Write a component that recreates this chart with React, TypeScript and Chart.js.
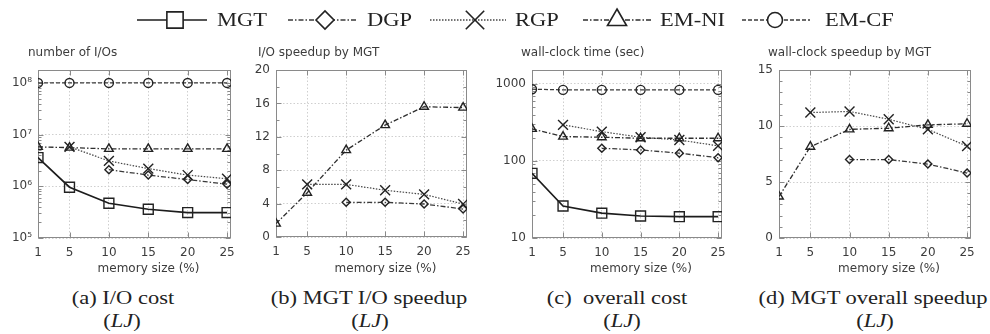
import React, { useEffect, useRef } from 'react';
import { Chart, registerables } from 'chart.js';
import { drawPoint } from 'chart.js/helpers';

Chart.register(...registerables);
Chart.defaults.font.family = '"DejaVu Sans", sans-serif';

// ---------------- data ----------------
const MEMORY_SIZES = [1, 5, 10, 15, 20, 25];
const X_TICKS = [1, 5, 10, 15, 20, 25];
const X_MIN = 1;
const X_MAX = 25.5;
const SERIES = ['MGT', 'DGP', 'RGP', 'EM-NI', 'EM-CF'];

// (a) number of I/Os
const IO_MGT = [3.6e6, 9.6e5, 4.7e5, 3.6e5, 3.1e5, 3.1e5];
const IO_DGP = [null, null, 2.1e6, 1.65e6, 1.35e6, 1.1e6];
const IO_RGP = [null, 5.8e6, 3.1e6, 2.2e6, 1.65e6, 1.4e6];
const IO_EMNI = [5.8e6, 5.6e6, 5.3e6, 5.3e6, 5.3e6, 5.3e6];
const IO_EMCF = [1.0e8, 1.0e8, 1.0e8, 1.0e8, 1.0e8, 1.0e8];
const A_Y_TICKS = [1e5, 1e6, 1e7, 1e8];
const A_Y_LABELS = ['10\u2075', '10\u2076', '10\u2077', '10\u2078'];

// (b) I/O speedup by MGT
const IOSP_DGP = [null, null, 4.15, 4.15, 3.95, 3.35];
const IOSP_RGP = [null, 6.3, 6.3, 5.6, 5.1, 3.95];
const IOSP_EMNI = [1.6, 5.3, 10.4, 13.4, 15.6, 15.5];
const B_Y_TICKS = [0, 4, 8, 12, 16, 20];
const B_Y_LABELS = ['0', '4', '8', '12', '16', '20'];

// (c) wall-clock time (sec)
const T_MGT = [69, 26, 21, 19.3, 18.9, 18.9];
const T_DGP = [null, null, 146, 139, 126, 110];
const T_RGP = [null, 294, 240, 203, 187, 157];
const T_EMNI = [261, 207, 203, 197, 197, 197];
const T_EMCF = [853, 836, 836, 836, 836, 836];
const C_Y_TICKS = [10, 100, 1000];
const C_Y_LABELS = ['10', '100', '1000'];

// (d) wall-clock speedup by MGT
const TSP_DGP = [null, null, 7.0, 7.0, 6.6, 5.8];
const TSP_RGP = [null, 11.2, 11.3, 10.6, 9.7, 8.2];
const TSP_EMNI = [3.7, 8.15, 9.7, 9.8, 10.1, 10.2];
const D_Y_TICKS = [0, 5, 10, 15];
const D_Y_LABELS = ['0', '5', '10', '15'];

const X_TITLE = 'memory size (%)';

// ---------------- styles ----------------
const STYLE: Record<string, any> = {
  MGT: { color: '#1c1c1c', width: 1.7, dash: [], point: 'rect', r: 7, lr: 11.5 },
  DGP: { color: '#3a3a3a', width: 1.3, dash: [5, 2, 1.5, 2], point: 'rectRot', r: 4, lr: 9 },
  RGP: { color: '#474747', width: 1.2, dash: [1.5, 1.5], point: 'crossRot', r: 7, lr: 13 },
  'EM-NI': { color: '#2e2e2e', width: 1.3, dash: [5, 2, 1.5, 2], point: 'triangle', r: 5, lr: 11 },
  'EM-CF': { color: '#3a3a3a', width: 1.3, dash: [4, 2], point: 'circle', r: 4.5, lr: 7.5 },
};

const PANELS = [
  {
    title: 'number of I/Os', left: 0, width: 245, titleX: 28,
    area: { l: 38, r: 231, t: 30, b: 198 },
    yType: 'logarithmic', yMin: 1e5, yMax: 1.78e8, yTicks: A_Y_TICKS, yLabels: A_Y_LABELS,
    series: [['MGT', IO_MGT], ['DGP', IO_DGP], ['RGP', IO_RGP], ['EM-NI', IO_EMNI], ['EM-CF', IO_EMCF]],
  },
  {
    title: 'I/O speedup by MGT', left: 245, width: 245, titleX: 13,
    area: { l: 31, r: 222, t: 30, b: 197 },
    yType: 'linear', yMin: 0, yMax: 20, yTicks: B_Y_TICKS, yLabels: B_Y_LABELS, minorStep: 2,
    series: [['DGP', IOSP_DGP], ['RGP', IOSP_RGP], ['EM-NI', IOSP_EMNI]],
  },
  {
    title: 'wall-clock time (sec)', left: 490, width: 255, titleX: 31,
    area: { l: 42, r: 232, t: 30, b: 198 },
    yType: 'logarithmic', yMin: 10, yMax: 1514, yTicks: C_Y_TICKS, yLabels: C_Y_LABELS,
    series: [['MGT', T_MGT], ['DGP', T_DGP], ['RGP', T_RGP], ['EM-NI', T_EMNI], ['EM-CF', T_EMCF]],
  },
  {
    title: 'wall-clock speedup by MGT', left: 745, width: 245, titleX: 23,
    area: { l: 34, r: 226, t: 30, b: 198 },
    yType: 'linear', yMin: 0, yMax: 15, yTicks: D_Y_TICKS, yLabels: D_Y_LABELS, minorStep: 1,
    series: [['DGP', TSP_DGP], ['RGP', TSP_RGP], ['EM-NI', TSP_EMNI]],
  },
];

const PANEL_TOP = 40;
const PANEL_H = 240;

const LEGEND_LAYOUT = [
  { x0: 137, x1: 207, mx: 175, tx: 217 },
  { x0: 288, x1: 358, mx: 325, tx: 367 },
  { x0: 430, x1: 506, mx: 475, tx: 515 },
  { x0: 583, x1: 652, mx: 617, tx: 660 },
  { x0: 742, x1: 810, mx: 775, tx: 825 },
];

const CAPTIONS = [
  { text: '(a) I/O cost', cx: 123, cx2: 122 },
  { text: '(b) MGT I/O speedup', cx: 369, cx2: 370 },
  { text: '(c)  overall cost', cx: 617, cx2: 622 },
  { text: '(d) MGT overall speedup', cx: 873, cx2: 875 },
];

// ---------------- plugins ----------------
const framePlugin = {
  id: 'frame',
  beforeDatasetsDraw(chart: any, _a: any, opts: any) {
    const { ctx, chartArea: a } = chart;
    const ys = chart.scales.y;
    const xs = chart.scales.x;
    ctx.save();
    ctx.strokeStyle = '#8a8a8a';
    ctx.lineWidth = 1;
    ctx.setLineDash([]);
    const L = Math.round(a.left) + 0.5, R = Math.round(a.right) - 0.5;
    const T = Math.round(a.top) + 0.5, B = Math.round(a.bottom) - 0.5;
    ctx.strokeRect(L, T, R - L, B - T);
    ctx.beginPath();
    const tick = (py: number, len: number) => {
      const y = Math.round(py) + 0.5;
      ctx.moveTo(L, y); ctx.lineTo(L + len, y);
      ctx.moveTo(R, y); ctx.lineTo(R - len, y);
    };
    if (opts.log) {
      for (let e = Math.floor(Math.log10(ys.min)); e <= Math.ceil(Math.log10(ys.max)); e++) {
        for (let k = 2; k <= 9; k++) {
          const v = k * Math.pow(10, e);
          if (v > ys.min && v < ys.max) tick(ys.getPixelForValue(v), 3);
        }
      }
    } else if (opts.minorStep) {
      for (let v = ys.min; v <= ys.max; v += opts.minorStep) tick(ys.getPixelForValue(v), 3);
    }
    ys.ticks.forEach((t: any) => tick(ys.getPixelForValue(t.value), 5));
    xs.ticks.forEach((t: any) => {
      const x = Math.round(xs.getPixelForValue(t.value)) + 0.5;
      ctx.moveTo(x, B); ctx.lineTo(x, B - 5);
      ctx.moveTo(x, T); ctx.lineTo(x, T + 5);
    });
    ctx.stroke();
    ctx.restore();
  },
};

const panelTextPlugin = {
  id: 'panelText',
  afterDraw(chart: any, _a: any, opts: any) {
    const { ctx, chartArea: a } = chart;
    ctx.save();
    ctx.fillStyle = '#3c3c3c';
    ctx.font = '12px "DejaVu Sans"';
    ctx.textBaseline = 'middle';
    ctx.textAlign = 'left';
    ctx.fillText(opts.title, opts.titleX, opts.titleY);
    ctx.textAlign = 'center';
    ctx.fillText(opts.xTitle, (a.left + a.right) / 2 + opts.xTitleShift, opts.xTitleY);
    ctx.restore();
  },
};

const legendPlugin = {
  id: 'lineLegend',
  afterDraw(chart: any) {
    const { ctx } = chart;
    const y = 20;
    chart.data.datasets.forEach((ds: any, i: number) => {
      const L = LEGEND_LAYOUT[i];
      ctx.save();
      ctx.strokeStyle = ds.borderColor;
      ctx.lineWidth = 1.6;
      ctx.setLineDash(ds.borderDash || []);
      ctx.beginPath();
      ctx.moveTo(L.x0, y);
      ctx.lineTo(L.x1, y);
      ctx.stroke();
      ctx.setLineDash([]);
      ctx.fillStyle = '#ffffff';
      ctx.strokeStyle = '#222';
      ctx.lineWidth = 1.6;
      drawPoint(ctx, { pointStyle: ds.pointStyle, radius: ds.legendRadius, rotation: 0, borderWidth: 1.6 } as any, L.mx, y);
      ctx.fillStyle = '#222';
      ctx.font = '18px "Liberation Serif"';
      ctx.textBaseline = 'middle';
      ctx.textAlign = 'left';
      ctx.translate(L.tx, y + 1);
      ctx.scale(1.25, 1);
      ctx.fillText(ds.label, 0, 0);
      ctx.restore();
    });
  },
};

// ---------------- charts ----------------
function makePanel(canvas: HTMLCanvasElement, p: any) {
  const datasets = p.series.map(([name, vals]: [string, (number | null)[]]) => {
    const s = STYLE[name];
    const pts = MEMORY_SIZES.map((x, i) => ({ x, y: vals[i] })).filter((d) => d.y !== null);
    return {
      label: name,
      data: pts,
      borderColor: s.color,
      borderWidth: s.width,
      borderDash: s.dash,
      pointStyle: s.point,
      pointRadius: s.r,
      pointBorderColor: '#222',
      pointBorderWidth: 1.4,
      pointBackgroundColor: 'rgba(255,255,255,0)',
      tension: 0,
      fill: false,
    };
  });
  const gridCfg = { color: '#cfcfcf', lineWidth: 1, drawTicks: false };
  return new Chart(canvas, {
    type: 'line',
    data: { datasets },
    options: {
      animation: false,
      responsive: false,
      layout: { padding: { left: 0, top: p.area.t, right: p.width - p.area.r, bottom: 0 } },
      plugins: {
        legend: { display: false },
        tooltip: { enabled: false },
        frame: { log: p.yType === 'logarithmic', minorStep: p.minorStep },
        panelText: {
          title: p.title, titleX: p.titleX, titleY: 13,
          xTitle: X_TITLE, xTitleShift: 14, xTitleY: 229,
        },
      } as any,
      scales: {
        x: {
          type: 'linear',
          min: X_MIN,
          max: X_MAX,
          afterBuildTicks: (s: any) => { s.ticks = X_TICKS.map((v) => ({ value: v })); },
          afterFit: (s: any) => { s.height = PANEL_H - p.area.b; },
          grid: gridCfg,
          border: { display: false, dash: [1.5, 2] },
          ticks: { color: '#3c3c3c', font: { size: 12 }, padding: 8, maxRotation: 0, autoSkip: false,
            callback: (v: any) => String(v) },
        },
        y: {
          type: p.yType,
          min: p.yMin,
          max: p.yMax,
          afterBuildTicks: (s: any) => { s.ticks = p.yTicks.map((v: number) => ({ value: v })); },
          afterFit: (s: any) => { s.width = p.area.l; },
          grid: gridCfg,
          border: { display: false, dash: [1.5, 2] },
          ticks: {
            color: '#3c3c3c', font: { size: 12 }, padding: 6, autoSkip: false,
            callback: (v: any) => {
              const i = p.yTicks.findIndex((t: number) => Math.abs(t - v) < 1e-9 * Math.max(1, Math.abs(t)));
              return i >= 0 ? p.yLabels[i] : '';
            },
          },
        },
      } as any,
    },
    plugins: [framePlugin, panelTextPlugin],
  } as any);
}

function makeLegend(canvas: HTMLCanvasElement) {
  return new Chart(canvas, {
    type: 'line',
    data: {
      datasets: SERIES.map((name) => ({
        label: name,
        data: [],
        borderColor: STYLE[name].color,
        borderDash: STYLE[name].dash,
        pointStyle: STYLE[name].point,
        legendRadius: STYLE[name].lr,
      })) as any,
    },
    options: {
      animation: false,
      responsive: false,
      plugins: { legend: { display: false }, tooltip: { enabled: false } },
      scales: { x: { display: false }, y: { display: false } },
    },
    plugins: [legendPlugin],
  } as any);
}

function ChartCanvas({ make, left, top, width, height }: any) {
  const ref = useRef<HTMLCanvasElement>(null);
  useEffect(() => {
    const chart = make(ref.current);
    return () => chart.destroy();
  }, []);
  return (
    <canvas
      ref={ref}
      width={width}
      height={height}
      style={{ position: 'absolute', left, top, width, height }}
    />
  );
}

export default function App() {
  useEffect(() => {
    document.body.style.margin = '0';
  }, []);
  const capStyle: any = {
    position: 'absolute',
    whiteSpace: 'pre',
    font: '18px "Liberation Serif", serif',
    lineHeight: '20px',
    color: '#222',
    transform: 'translateX(-50%) scaleX(1.25)',
  };
  return (
    <div style={{ position: 'relative', width: 990, height: 334, background: '#fff', overflow: 'hidden' }}>
      <ChartCanvas make={makeLegend} left={0} top={0} width={990} height={40} />
      {PANELS.map((p, i) => (
        <ChartCanvas
          key={i}
          make={(c: HTMLCanvasElement) => makePanel(c, p)}
          left={p.left}
          top={PANEL_TOP}
          width={p.width}
          height={PANEL_H}
        />
      ))}
      {CAPTIONS.map((c, i) => (
        <React.Fragment key={i}>
          <div style={{ ...capStyle, left: c.cx, top: 288 }}>{c.text}</div>
          <div style={{ ...capStyle, left: c.cx2, top: 311 }}>
            (<i>LJ</i>)
          </div>
        </React.Fragment>
      ))}
    </div>
  );
}
